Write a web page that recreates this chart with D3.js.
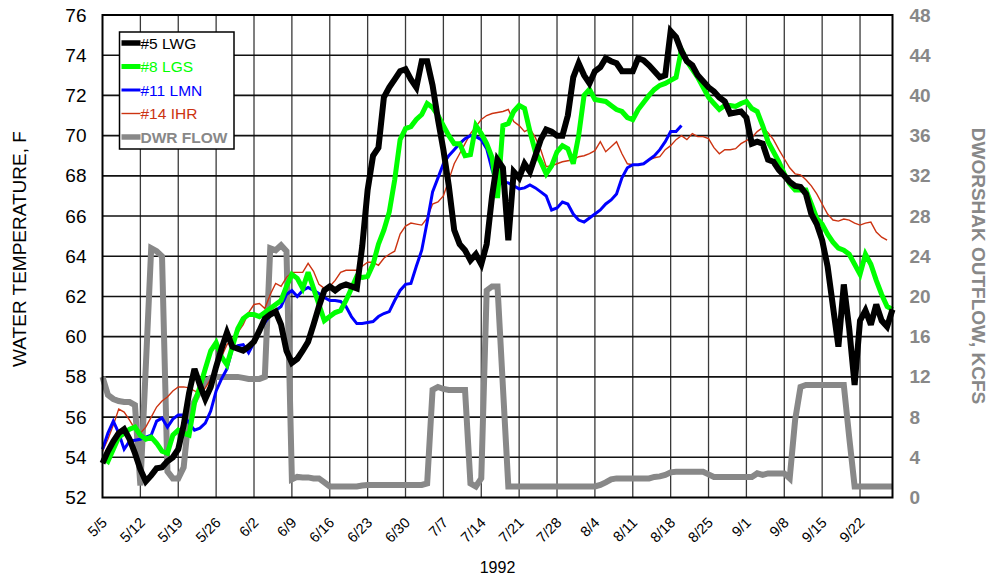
<!DOCTYPE html>
<html>
<head>
<meta charset="utf-8">
<script src="https://cdn.jsdelivr.net/npm/d3@7"></script>
<style>
    body { margin: 0; background: #fff; }
    svg { display: block; font-family: "Liberation Sans", Arial, sans-serif; }
</style>
</head>
<body>
<script>
"use strict";

// daily values, first entry is 5/5/1992
const startDay = "5/5";
const lwgTemp = [53.7,54.3,54.8,55.2,55.4,54.9,54.2,53.4,52.8,53.1,53.45,53.5,53.8,54.0,54.4,55.6,57.2,58.4,57.6,56.9,
    57.5,58.5,59.4,60.2,59.5,59.4,59.3,59.5,59.75,60.3,60.9,61.1,61.25,60.6,59.3,58.7,58.9,59.3,59.75,60.6,
    61.5,62.3,62.5,62.3,62.5,62.6,62.5,62.4,64.5,67.3,69.0,69.4,71.9,72.4,72.8,73.2,73.3,72.8,72.4,73.7,
    73.7,72.5,70.8,69.3,67.5,65.3,64.6,64.3,63.8,64.1,63.6,64.6,67.0,68.8,68.4,64.8,68.2,67.9,68.6,68.2,
    69.0,69.8,70.3,70.2,70.0,70.0,71.0,72.9,73.6,73.0,72.6,73.2,73.4,73.85,73.7,73.6,73.2,73.2,73.2,73.85,
    73.75,73.5,73.2,72.9,73.0,75.2,74.9,74.2,73.7,73.5,73.0,72.7,72.4,72.2,71.9,71.7,71.1,71.15,71.2,70.9,
    69.6,69.7,69.6,68.8,68.7,68.3,68.0,67.7,67.5,67.45,67.1,66.1,65.6,64.8,63.5,61.5,59.5,62.6,60.4,57.6,
    60.8,61.3,60.6,61.6,60.8,60.5,61.35];
const lgsTemp = [54.0,53.8,54.4,55.0,55.2,55.4,55.5,55.1,54.9,55.0,54.7,54.3,54.2,55.1,55.35,55.2,55.1,56.7,57.5,58.4,
    59.3,59.7,59.0,58.6,59.5,60.4,60.9,61.1,61.1,61.0,61.2,61.4,61.6,61.8,62.5,63.1,62.9,62.4,63.2,62.4,
    61.6,60.8,61.0,61.2,61.3,61.8,62.4,63.0,62.95,63.0,63.6,64.6,65.3,66.2,67.8,69.8,70.35,70.45,70.8,71.05,
    71.6,71.4,71.0,70.5,70.0,69.6,69.6,69.0,69.05,70.5,70.1,69.6,68.9,66.9,70.5,70.6,71.2,71.5,71.35,70.2,
    69.2,68.7,68.1,68.5,69.2,69.5,69.35,68.6,70.0,72.0,72.3,71.8,71.75,71.7,71.5,71.3,71.2,70.9,70.8,71.3,
    71.65,72.0,72.3,72.5,72.6,72.75,72.9,74.3,73.7,73.3,72.9,72.4,71.9,71.6,71.3,71.5,71.5,71.45,71.6,71.7,
    71.35,71.2,70.5,69.7,69.2,68.7,68.1,67.6,67.3,67.3,67.3,66.6,65.9,65.6,65.1,64.7,64.4,64.3,64.1,63.6,
    63.1,64.1,63.6,62.8,62.1,61.5,61.35];
const lmnTemp = [54.4,55.2,55.8,55.2,54.4,54.8,54.85,54.9,55.0,55.1,55.8,55.95,55.5,55.9,56.1,56.1,55.7,55.35,55.45,55.7,
    56.3,57.3,57.9,58.4,59.4,59.55,59.6,59.2,59.7,60.3,60.7,61.05,61.3,61.5,62.1,62.3,62.0,62.3,62.45,62.3,
    62.15,61.95,61.8,61.8,61.75,61.5,61.0,60.65,60.65,60.7,60.75,61.0,61.15,61.25,61.8,62.3,62.6,62.65,63.5,64.3,
    65.7,67.2,67.9,68.6,69.0,69.3,69.6,69.85,70.0,69.95,69.8,69.35,68.3,67.5,67.7,67.65,67.5,67.35,67.4,67.55,
    67.4,67.2,67.0,66.3,66.4,66.7,66.6,66.1,65.8,65.7,65.9,66.1,66.3,66.6,66.8,67.1,67.9,68.4,68.55,68.55,
    68.6,68.8,69.0,69.3,69.7,70.2,70.2,70.5];
const ihrTemp = [54.3,54.9,55.6,56.4,56.25,55.85,55.4,55.2,55.5,56.0,56.5,56.8,57.0,57.3,57.5,57.5,57.45,57.3,57.2,57.45,
    57.9,58.4,59.0,59.6,59.9,60.2,60.6,61.2,61.6,61.65,61.4,62.1,62.65,62.5,62.95,63.2,63.2,63.2,63.65,63.25,
    62.6,62.4,62.5,62.8,63.2,63.3,63.3,63.3,63.5,63.7,63.7,63.55,63.9,64.1,64.25,65.1,65.5,65.65,65.6,65.55,
    65.9,66.6,66.7,67.0,67.8,68.6,69.1,69.6,70.1,70.45,70.8,71.0,71.1,71.15,71.2,71.3,70.7,70.5,70.2,70.35,
    69.9,69.3,68.45,68.5,68.6,68.7,68.75,68.8,68.95,69.0,69.1,69.25,69.7,69.2,69.45,69.7,69.1,68.6,68.55,68.55,
    68.6,68.8,68.9,68.95,69.3,69.5,69.8,70.0,69.8,70.1,69.95,69.95,69.85,69.4,69.1,69.3,69.3,69.35,69.6,69.75,
    69.9,70.2,70.4,70.15,69.8,69.3,68.85,68.4,68.1,68.05,67.8,67.5,67.1,66.6,66.1,65.8,65.75,65.85,65.8,65.65,
    65.55,65.65,65.7,65.2,64.95,64.8];
const dwrFlow = [12.0,10.2,9.8,9.6,9.5,9.5,9.2,1.2,13.0,24.8,24.5,24.0,2.6,1.9,1.9,3.0,8.4,9.6,10.6,11.5,
    11.9,12.0,12.0,12.0,12.0,12.0,11.9,11.8,11.8,11.8,12.0,24.8,24.6,25.1,24.5,1.8,2.05,2.0,2.0,1.9,
    1.9,1.5,1.1,1.1,1.1,1.1,1.1,1.1,1.2,1.25,1.25,1.25,1.25,1.25,1.25,1.25,1.25,1.25,1.25,1.25,
    1.4,10.7,11.0,10.8,10.7,10.7,10.7,10.7,1.4,1.1,1.9,20.6,21.0,21.0,11.0,1.1,1.1,1.1,1.1,1.1,
    1.1,1.1,1.1,1.1,1.1,1.1,1.1,1.1,1.1,1.1,1.1,1.1,1.25,1.5,1.8,1.9,1.9,1.9,1.9,1.9,
    1.9,1.9,2.05,2.1,2.25,2.5,2.55,2.55,2.55,2.55,2.55,2.55,2.3,2.05,2.05,2.05,2.05,2.05,2.05,2.05,
    2.05,2.4,2.25,2.4,2.4,2.4,2.4,1.9,7.7,11.0,11.2,11.2,11.2,11.2,11.2,11.2,11.2,11.2,6.0,1.1,
    1.1,1.1,1.1,1.1,1.1,1.1,1.1];

const weekLabels = ["5/5","5/12","5/19","5/26","6/2","6/9","6/16","6/23","6/30","7/7","7/14","7/21",
    "7/28","8/4","8/11","8/18","8/25","9/1","9/8","9/15","9/22"];
const endDay = "9/28";
const tempTicks = [52,54,56,58,60,62,64,66,68,70,72,74,76];
const flowTicks = [0,4,8,12,16,20,24,28,32,36,40,44,48];

const seriesInfo = [
    {name: "#5 LWG", values: lwgTemp, color: "#000000", width: 6, axis: "temp"},
    {name: "#8 LGS", values: lgsTemp, color: "#00ff00", width: 5, axis: "temp"},
    {name: "#11 LMN", values: lmnTemp, color: "#0000ff", width: 3, axis: "temp"},
    {name: "#14 IHR", values: ihrTemp, color: "#cc3311", width: 1.4, axis: "temp"},
    {name: "DWR FLOW", values: dwrFlow, color: "#888888", width: 6, axis: "flow"}
];

(function() {
const svgSize = {
    width: 991,
    height: 580,
}
const plot = {left: 102.5, right: 892.5, top: 15, bottom: 497.5};

    window.addEventListener("load", init);

    function toDate(md) {
        const p = md.split("/");
        return new Date(Date.UTC(1992, +p[0] - 1, +p[1]));
    }

    function init() {
        const svg = d3.select("body").append('svg')
                        .attr('width', svgSize.width)
                        .attr('height', svgSize.height);

        const start = toDate(startDay);
        const dayDate = (i) => d3.utcDay.offset(start, i);

        const x = d3.scaleUtc()
            .domain([start, toDate(endDay)])
            .range([plot.left, plot.right]);
        const yTemp = d3.scaleLinear().domain([52, 76]).range([plot.bottom, plot.top]);
        const yFlow = d3.scaleLinear().domain([0, 48]).range([plot.bottom, plot.top]);

        const weekDates = weekLabels.map(toDate);

        // grid
        const grid = svg.append("g");
        grid.selectAll(".vg")
            .data(weekDates.slice(1))
            .enter()
            .append("line")
                .attr("x1", d => x(d)).attr("x2", d => x(d))
                .attr("y1", plot.top).attr("y2", plot.bottom)
                .attr("stroke", "#3a3a3a")
                .attr("stroke-width", 1.3);
        grid.selectAll(".hg")
            .data(tempTicks.slice(1, -1))
            .enter()
            .append("line")
                .attr("x1", plot.left).attr("x2", plot.right)
                .attr("y1", d => yTemp(d)).attr("y2", d => yTemp(d))
                .attr("stroke", "#111")
                .attr("stroke-width", 1.6);

        // series lines, flow at the bottom, LWG on top
        const lines = svg.append("g")
            .attr("stroke-linejoin", "miter")
            .attr("stroke-miterlimit", 3)
            .attr("fill", "none");
        [4, 3, 2, 1, 0].forEach(function(k) {
            const s = seriesInfo[k];
            const yS = s.axis === "flow" ? yFlow : yTemp;
            const line = d3.line()
                .x((d, i) => x(dayDate(i)))
                .y(d => yS(d));
            lines.append("path")
                .attr("d", line(s.values))
                .attr("stroke", s.color)
                .attr("stroke-width", s.width);
        });

        // frame
        svg.append("rect")
            .attr("x", plot.left).attr("y", plot.top)
            .attr("width", plot.right - plot.left)
            .attr("height", plot.bottom - plot.top)
            .attr("fill", "none")
            .attr("stroke", "#000")
            .attr("stroke-width", 2);

        // left axis
        const leftAxis = svg.append("g")
            .attr("transform", "translate(" + plot.left + ",0)")
            .call(d3.axisLeft(yTemp).tickValues(tempTicks).tickSize(0).tickPadding(16));
        leftAxis.select(".domain").remove();
        leftAxis.selectAll("text")
            .attr("font-size", 19)
            .attr("font-family", "Liberation Sans, Arial, sans-serif")
            .attr("fill", "#000");

        // right axis
        const rightAxis = svg.append("g")
            .attr("transform", "translate(" + plot.right + ",0)")
            .call(d3.axisRight(yFlow).tickValues(flowTicks).tickSize(0).tickPadding(17));
        rightAxis.select(".domain").remove();
        rightAxis.selectAll("text")
            .attr("font-size", 19)
            .attr("font-weight", "bold")
            .attr("font-family", "Liberation Sans, Arial, sans-serif")
            .attr("fill", "#888");

        // bottom axis
        const bottomAxis = svg.append("g")
            .attr("transform", "translate(0," + plot.bottom + ")")
            .call(d3.axisBottom(x).tickValues(weekDates).tickSize(0)
                .tickFormat(d3.utcFormat("%-m/%-d")));
        bottomAxis.select(".domain").remove();
        bottomAxis.selectAll("text")
            .attr("font-size", 14.5)
            .attr("font-family", "Liberation Sans, Arial, sans-serif")
            .attr("fill", "#000")
            .attr("text-anchor", "end")
            .attr("dy", null)
            .attr("y", null)
            .attr("transform", "translate(5,26) rotate(-45)");

        // titles
        svg.append("text")
            .attr("transform", "translate(26," + 249 + ") rotate(-90)")
            .attr("text-anchor", "middle")
            .attr("font-size", 19)
            .text("WATER TEMPERATURE, F");
        svg.append("text")
            .attr("transform", "translate(972," + 266 + ") rotate(90)")
            .attr("text-anchor", "middle")
            .attr("font-size", 19)
            .attr("font-weight", "bold")
            .attr("fill", "#888")
            .text("DWORSHAK OUTFLOW, KCFS");
        svg.append("text")
            .attr("x", (plot.left + plot.right) / 2)
            .attr("y", 573)
            .attr("text-anchor", "middle")
            .attr("font-size", 16)
            .text("1992");

        // legend
        const legend = svg.append("g").attr("transform", "translate(119.5,32)");
        legend.append("rect")
            .attr("width", 114.5).attr("height", 117)
            .attr("fill", "#fff")
            .attr("stroke", "#000")
            .attr("stroke-width", 1.5);
        const item = legend.selectAll(".item")
            .data(seriesInfo)
            .enter()
            .append("g")
                .attr("transform", (d, i) => "translate(0," + (11 + i * 23.5) + ")");
        item.append("line")
            .attr("x1", 2).attr("x2", 21)
            .attr("stroke", d => d.color)
            .attr("stroke-width", d => Math.min(d.width, 5.5));
        item.append("text")
            .attr("x", 21)
            .attr("dy", "0.36em")
            .attr("font-size", 15.5)
            .attr("font-weight", d => d.axis === "flow" ? "bold" : null)
            .attr("fill", d => d.color)
            .text(d => d.name);
    }
})();
</script>
</body>
</html>
